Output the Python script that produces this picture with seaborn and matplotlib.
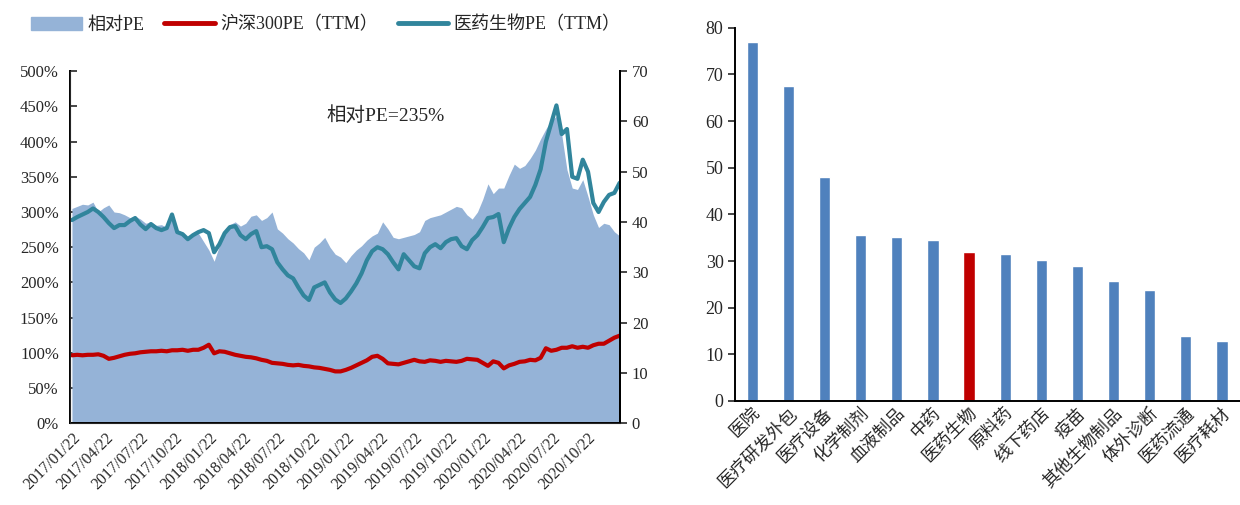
import pandas as pd
import matplotlib
matplotlib.use("Agg")
import matplotlib.pyplot as plt
import matplotlib.dates as mdates
from matplotlib.ticker import FuncFormatter, MultipleLocator
from matplotlib.patches import Patch
from matplotlib.lines import Line2D
import seaborn as sns

# 数据：双周采样，2017/01/22 起
start_date = "2017-01-22"
relative_pe = [  # 相对PE（%）
    305, 308, 311, 310, 314, 300, 306, 310, 300, 299,
    296, 292, 294, 290, 284, 286, 281, 282, 278, 296,
    272, 268, 264, 268, 270, 258, 246, 230, 252, 270,
    282, 286, 280, 284, 294, 296, 288, 292, 300, 276,
    270, 262, 256, 248, 242, 232, 250, 256, 264, 250,
    240, 236, 228, 238, 246, 252, 260, 266, 270, 286,
    276, 264, 262, 264, 266, 268, 272, 288, 292, 294,
    296, 300, 304, 308, 306, 296, 290, 300, 318, 340,
    326, 334, 334, 352, 368, 362, 366, 376, 388, 404,
    418, 430, 436, 410, 360, 334, 332, 346, 322, 296,
    278, 284, 282, 272, 266,
]
hs300_pe = [  # 沪深300PE（TTM）
    13.5, 13.6, 13.5, 13.6, 13.6, 13.7, 13.4, 12.8, 13.0, 13.3,
    13.6, 13.8, 13.9, 14.1, 14.2, 14.3, 14.3, 14.4, 14.3, 14.5,
    14.5, 14.6, 14.4, 14.6, 14.6, 15.0, 15.6, 13.9, 14.3, 14.2,
    13.9, 13.6, 13.4, 13.2, 13.1, 12.9, 12.6, 12.4, 12.0, 11.9,
    11.8, 11.6, 11.5, 11.6, 11.4, 11.3, 11.1, 11.0, 10.8, 10.6,
    10.3, 10.3, 10.6, 11.0, 11.5, 12.0, 12.5, 13.2, 13.4, 12.8,
    11.9, 11.8, 11.7, 12.0, 12.3, 12.6, 12.3, 12.2, 12.5, 12.4,
    12.2, 12.4, 12.3, 12.2, 12.4, 12.8, 12.7, 12.6, 12.0, 11.4,
    12.3, 12.0, 10.9, 11.5, 11.8, 12.2, 12.3, 12.6, 12.5, 13.0,
    14.9, 14.4, 14.6, 15.0, 15.0, 15.3, 15.0, 15.2, 15.0, 15.5,
    15.8, 15.8, 16.4, 17.0, 17.4,
]
pharma_pe = [  # 医药生物PE（TTM）
    40.4, 41.0, 41.5, 42.0, 42.7, 42.0, 41.0, 39.8, 38.8, 39.4,
    39.4, 40.2, 40.8, 39.5, 38.6, 39.6, 38.8, 38.4, 38.8, 41.5,
    38.0, 37.6, 36.6, 37.4, 38.0, 38.4, 37.8, 34.0, 35.6, 37.8,
    39.0, 39.2, 37.4, 36.6, 37.6, 38.2, 35.0, 35.2, 34.6, 32.0,
    30.6, 29.4, 28.8, 27.0, 25.4, 24.5, 27.0, 27.5, 28.0, 26.0,
    24.6, 23.9, 24.8, 26.2, 27.8, 29.8, 32.4, 34.2, 35.0, 34.6,
    33.6, 32.0, 30.6, 33.6, 32.4, 31.2, 30.8, 33.8, 35.0, 35.6,
    34.8, 36.0, 36.6, 36.8, 35.2, 34.6, 36.4, 37.4, 39.0, 40.8,
    41.0, 41.6, 36.0, 38.8, 41.0, 42.6, 43.8, 45.0, 47.4, 50.5,
    56.0, 59.6, 63.2, 57.5, 58.5, 49.0, 48.6, 52.4, 50.0, 43.8,
    42.0, 44.0, 45.4, 45.8, 47.8,
]

industries = ["医院", "医疗研发外包", "医疗设备", "化学制剂", "血液制品", "中药", "医药生物",
              "原料药", "线下药店", "疫苗", "其他生物制品", "体外诊断", "医药流通", "医疗耗材"]
industry_pe = [76.9, 67.5, 48.1, 35.5, 35.2, 34.6, 32.0, 31.4, 30.2, 29.0, 25.7, 23.8, 14.0, 12.9]
highlight = "医药生物"

dates = pd.date_range(start_date, periods=len(relative_pe), freq="14D")
tick_dates = pd.date_range("2017-01-01", "2020-10-01", freq="3MS") + pd.Timedelta(days=21)

sns.set_style("white")
plt.rcParams["font.family"] = ["Liberation Serif", "Noto Sans CJK SC"]
plt.rcParams["axes.unicode_minus"] = False

c_area = "#95B3D7"
c_red = "#C00000"
c_teal = "#31859C"
c_bar = "#4F81BD"

fig = plt.figure(figsize=(12.4, 5.05), dpi=100)

# 左图：相对PE
ax = fig.add_axes([0.0565, 0.162, 0.4435, 0.697])
ax.fill_between(dates, relative_pe, 0, color=c_area, lw=0)
ax.set_ylim(0, 500)
ax.yaxis.set_major_locator(MultipleLocator(50))
ax.yaxis.set_major_formatter(FuncFormatter(lambda v, p: f"{v:.0f}%"))
ax.set_xlim(pd.Timestamp("2017-01-17"), dates[-1] + pd.Timedelta(days=1))
ax.set_xticks(tick_dates)
ax.xaxis.set_major_formatter(mdates.DateFormatter("%Y/%m/%d"))
for lab in ax.get_xticklabels():
    lab.set_rotation(45)
    lab.set_ha("right")
    lab.set_rotation_mode("anchor")
ax.tick_params(axis="x", length=0, labelsize=11.5, pad=5)
ax.tick_params(axis="y", direction="in", length=5, width=1.2, labelsize=12, pad=8, left=True)
ax.spines["top"].set_visible(False)
for s in ["left", "bottom", "right"]:
    ax.spines[s].set_linewidth(1.4)
    ax.spines[s].set_color("black")

ax2 = ax.twinx()
sns.lineplot(x=dates, y=hs300_pe, ax=ax2, color=c_red, lw=3.0)
sns.lineplot(x=dates, y=pharma_pe, ax=ax2, color=c_teal, lw=3.0)
ax2.set_ylim(0, 70)
ax2.yaxis.set_major_locator(MultipleLocator(10))
ax2.tick_params(axis="y", direction="out", length=5, width=1.2, labelsize=12, right=True)
ax2.spines["top"].set_visible(False)
ax2.spines["right"].set_linewidth(1.4)
ax2.spines["right"].set_color("black")
ax2.set_xlabel("")
ax2.set_ylabel("")
ax.set_ylabel("")

ax.text(0.573, 0.875, "相对PE=235%", transform=ax.transAxes, ha="center", va="center", fontsize=14)

handles = [Patch(color=c_area), Line2D([], [], color=c_red, lw=3.5), Line2D([], [], color=c_teal, lw=3.5)]
fig.legend(handles, ["相对PE", "沪深300PE（TTM）", "医药生物PE（TTM）"], loc="upper left",
           bbox_to_anchor=(0.012, 1.0), ncol=3, frameon=False, fontsize=13,
           handlelength=2.8, handletextpad=0.3, columnspacing=1.1)

# 右图：各子行业PE
bx = fig.add_axes([0.593, 0.206, 0.407, 0.739])
colors = [c_red if c == highlight else c_bar for c in industries]
sns.barplot(x=industries, y=industry_pe, hue=industries, palette=colors, legend=False,
            width=0.31, ax=bx, saturation=1)
bx.set_ylim(0, 80)
bx.set_xlim(-0.47, 13.5)
bx.yaxis.set_major_locator(MultipleLocator(10))
bx.tick_params(axis="y", direction="out", length=5, width=1.2, labelsize=13, left=True)
bx.tick_params(axis="x", length=0, labelsize=12.5, pad=3)
for lab in bx.get_xticklabels():
    lab.set_rotation(45)
    lab.set_ha("right")
    lab.set_rotation_mode("anchor")
for s in ["top", "right"]:
    bx.spines[s].set_visible(False)
for s in ["left", "bottom"]:
    bx.spines[s].set_linewidth(1.4)
    bx.spines[s].set_color("black")

fig.savefig("out.png", dpi=100)
